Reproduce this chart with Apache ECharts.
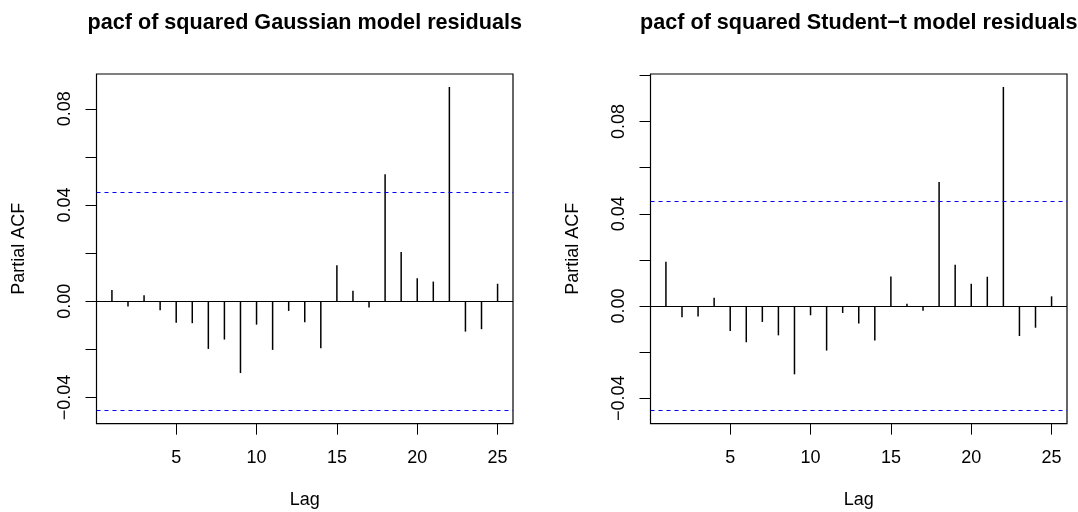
<!DOCTYPE html>
<html>
<head>
<meta charset="utf-8">
<script src="https://cdn.jsdelivr.net/npm/echarts@6/dist/echarts.min.js"></script>
<style>
html,body{margin:0;padding:0;background:#fff;}
#chart{width:1078px;height:512px;}
</style>
</head>
<body>
<div id="chart"></div>
<script>
// ---- data ----
const lags = [1,2,3,4,5,6,7,8,9,10,11,12,13,14,15,16,17,18,19,20,21,22,23,24,25];
const gaussPacf = [0.0047,-0.0022,0.0025,-0.0037,-0.0089,-0.0091,-0.0198,-0.0159,-0.0298,-0.0097,
                   -0.0202,-0.0040,-0.0087,-0.0195,0.0150,0.0044,-0.0026,0.0528,0.0205,0.0096,
                   0.0082,0.0891,-0.0126,-0.0116,0.0073];
const studentPacf = [0.0192,-0.0049,-0.0045,0.0036,-0.0108,-0.0157,-0.0069,-0.0127,-0.0296,-0.0040,
                     -0.0193,-0.0030,-0.0076,-0.0149,0.0128,0.0010,-0.0020,0.0538,0.0179,0.0097,
                     0.0127,0.0950,-0.0130,-0.0094,0.0042];
const ciGauss = 0.0455;
const ciStudent = 0.0454;
const xTicks = [5,10,15,20,25];
const yTicksGauss = [-0.04,-0.02,0.00,0.02,0.04,0.06,0.08];
const yTicksStudent = [-0.04,-0.02,0.00,0.02,0.04,0.06,0.08,0.10];
const yLabels = [-0.04,0.00,0.04,0.08];
const titles = ['pacf of squared Gaussian model residuals','pacf of squared Student\u2212t model residuals'];

const FONT = 'Liberation Sans, Arial, Helvetica, sans-serif';

function expRange(lo, hi){ const d=(hi-lo)*0.04; return [lo-d, hi+d]; }
const xr = expRange(Math.min(...lags), Math.max(...lags));
const yrG = expRange(Math.min(...gaussPacf, -ciGauss), Math.max(...gaussPacf, ciGauss));
const yrS = expRange(Math.min(...studentPacf, -ciStudent), Math.max(...studentPacf, ciStudent));

const grids = [
  {left:96.5, top:74, width:416.5, height:349.7},
  {left:650.5, top:74, width:416.5, height:349.7}
];

function xAxis(i){
  return {
    type:'value', gridIndex:i, min:xr[0], max:xr[1],
    name:'Lag', nameLocation:'middle', nameGap:67,
    nameTextStyle:{fontFamily:FONT, fontSize:18, color:'#000'},
    axisLine:{show:false, onZero:false},
    axisTick:{show:true, customValues:xTicks, length:11, lineStyle:{color:'#000', width:1}},
    axisLabel:{show:true, customValues:xTicks, fontFamily:FONT, fontSize:18, color:'#000', margin:25},
    splitLine:{show:false}
  };
}
function yAxis(i, yr, ticks){
  return {
    type:'value', gridIndex:i, min:yr[0], max:yr[1],
    name:'Partial ACF', nameLocation:'middle', nameGap:68, nameRotate:90,
    nameTextStyle:{fontFamily:FONT, fontSize:18, color:'#000'},
    axisLine:{show:false, onZero:false},
    axisTick:{show:true, customValues:ticks, length:11, lineStyle:{color:'#000', width:1}},
    axisLabel:{show:true, customValues:yLabels, rotate:90, fontFamily:FONT, fontSize:18, color:'#000', margin:22,
      formatter: v => (v < 0 ? '\u2212' : '') + Math.abs(v).toFixed(2)},
    splitLine:{show:false}
  };
}
function series(i, vals, ci){
  return {
    type:'bar', xAxisIndex:i, yAxisIndex:i,
    data: lags.map((l,k)=>[l, vals[k]]),
    barWidth:1.5, itemStyle:{color:'#000'},
    silent:true,
    markLine:{
      symbol:'none', silent:true, precision:6, label:{show:false}, animation:false,
      data:[
        {yAxis:0, lineStyle:{color:'#000000', type:'solid', width:1}},
        {yAxis:ci, lineStyle:{color:'#0000ff', type:[4,4], width:1}},
        {yAxis:-ci, lineStyle:{color:'#0000ff', type:[4,4], width:1}}
      ]
    }
  };
}

const chart = echarts.init(document.getElementById('chart'), null, {renderer:'canvas'});
chart.setOption({
  animation:false,
  backgroundColor:'#fff',
  title: titles.map((t,i)=>({
    text:t, left: grids[i].left + grids[i].width/2, top:12, textAlign:'center', padding:0,
    textStyle:{fontFamily:FONT, fontSize:21.6, fontWeight:'bold', color:'#000'}
  })),
  grid: grids.map(g=>Object.assign({show:true, outerBoundsMode:'none', containLabel:false,
    borderColor:'#000', borderWidth:1.2, backgroundColor:'transparent'}, g)),
  xAxis:[xAxis(0), xAxis(1)],
  yAxis:[yAxis(0, yrG, yTicksGauss), yAxis(1, yrS, yTicksStudent)],
  series:[series(0, gaussPacf, ciGauss), series(1, studentPacf, ciStudent)]
});
</script>
</body>
</html>
